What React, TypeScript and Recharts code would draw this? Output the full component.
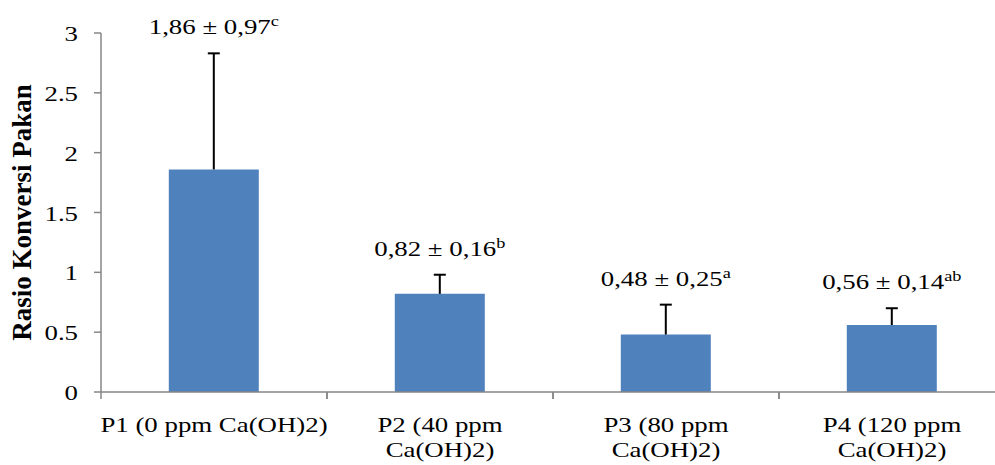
import { BarChart, Bar, XAxis, YAxis, LabelList } from "recharts";

const categories = ["P1", "P2", "P3", "P4"];
const tickLines = [
  ["P1 (0 ppm Ca(OH)2)"],
  ["P2 (40 ppm", "Ca(OH)2)"],
  ["P3 (80 ppm", "Ca(OH)2)"],
  ["P4 (120 ppm", "Ca(OH)2)"],
];
const means = [1.86, 0.82, 0.48, 0.56];
const sds = [0.97, 0.16, 0.25, 0.14];
const letters = ["c", "b", "a", "ab"];
const yTicks = [0, 0.5, 1, 1.5, 2, 2.5, 3];

const data = categories.map((name, i) => ({ name, value: means[i] }));

const FONT = "'Liberation Serif', 'Times New Roman', serif";
const AXIS = "#868686";
const CHART_W = 1010;
const Y_W = 101;
const RIGHT = 5;
const HALF_BAND = (CHART_W - Y_W - RIGHT) / categories.length / 2;
const SX = 1.22; // reference text is a bit wide

const fmt = (v: number) => v.toFixed(2).replace(".", ",");

const XTick = (props: any) => {
  const { x, y, payload } = props;
  const lines = tickLines[payload.index] || [payload.value];
  return (
    <g>
      <line x1={x - HALF_BAND} y1={y} x2={x - HALF_BAND} y2={y + 7} stroke={AXIS} strokeWidth={1.5} />
      <line x1={x + HALF_BAND} y1={y} x2={x + HALF_BAND} y2={y + 7} stroke={AXIS} strokeWidth={1.5} />
      <text
        transform={`translate(${x},${y + 40}) scale(${SX},1)`}
        textAnchor="middle"
        fontFamily={FONT}
        fontSize={22}
        fill="#000"
      >
        {lines.map((l: string, i: number) => (
          <tspan key={i} x={0} dy={i === 0 ? 0 : 25}>
            {l}
          </tspan>
        ))}
      </text>
    </g>
  );
};

const YTick = (props: any) => {
  const { x, y, payload } = props;
  return (
    <text
      transform={`translate(${x},${y + 8}) scale(${SX},1)`}
      textAnchor="end"
      fontFamily={FONT}
      fontSize={22}
      fill="#000"
    >
      {payload.value}
    </text>
  );
};

const ValueLabel = (props: any) => {
  const { x, y, width, height, index } = props;
  const cx = x + width / 2;
  const perUnit = height / means[index];
  const top = y - sds[index] * perUnit;
  return (
    <g>
      <line x1={cx} y1={y} x2={cx} y2={top} stroke="#000" strokeWidth={2} />
      <line x1={cx - 6} y1={top} x2={cx + 6} y2={top} stroke="#000" strokeWidth={2} />
      <text
        transform={`translate(${cx},${top - 19}) scale(${SX},1)`}
        textAnchor="middle"
        fontFamily={FONT}
        fontSize={22}
        fill="#000"
      >
        <tspan>{`${fmt(means[index])} ± ${fmt(sds[index])}`}</tspan>
        <tspan dy={-8} fontSize={15}>
          {letters[index]}
        </tspan>
      </text>
    </g>
  );
};

export default function App() {
  return (
    <div style={{ position: "absolute", left: 0, top: 0, width: 995, height: 465, overflow: "hidden", background: "#fff" }}>
      <BarChart
        width={CHART_W}
        height={465}
        data={data}
        margin={{ top: 33, right: RIGHT, bottom: 0, left: 0 }}
        barCategoryGap="30%"
      >
        <XAxis
          dataKey="name"
          height={73}
          interval={0}
          tickLine={false}
          tickSize={0}
          tickMargin={0}
          axisLine={{ stroke: AXIS, strokeWidth: 1.5 }}
          tick={<XTick />}
        />
        <YAxis
          width={Y_W}
          domain={[0, 3]}
          ticks={yTicks}
          interval={0}
          tickSize={7}
          tickMargin={16}
          axisLine={{ stroke: AXIS, strokeWidth: 1.5 }}
          tickLine={{ stroke: AXIS, strokeWidth: 1.5 }}
          tick={<YTick />}
          label={{
            content: (p: any) => {
              const vb = p.viewBox || {};
              const cy = (vb.y ?? 33) + (vb.height ?? 359) / 2;
              return (
                <text
                  x={31}
                  y={cy}
                  transform={`rotate(-90 31 ${cy})`}
                  textAnchor="middle"
                  fontFamily={FONT}
                  fontSize={27}
                  fontWeight="bold"
                  fill="#000"
                >
                  Rasio Konversi Pakan
                </text>
              );
            },
          }}
        />
        <Bar dataKey="value" fill="#4F81BD" isAnimationActive={false}>
          <LabelList dataKey="value" content={<ValueLabel />} />
        </Bar>
      </BarChart>
    </div>
  );
}
